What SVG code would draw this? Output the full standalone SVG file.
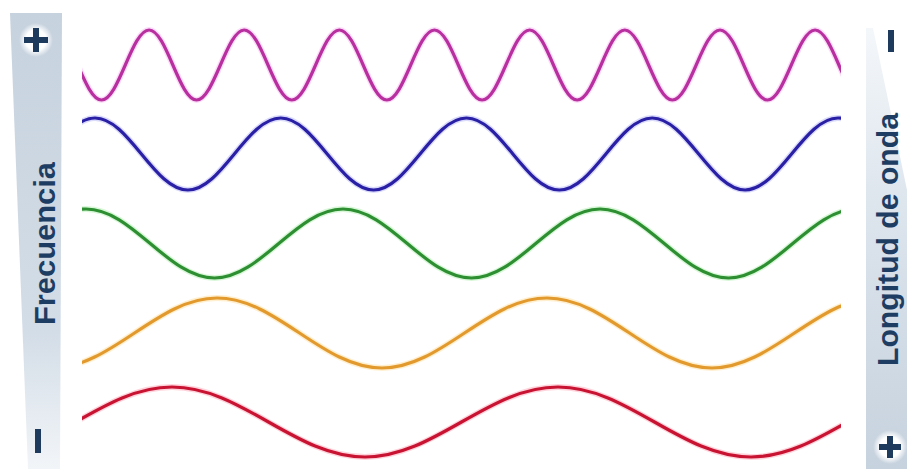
<svg xmlns="http://www.w3.org/2000/svg" width="907" height="469" viewBox="0 0 907 469">
  <defs>
    <linearGradient id="gLeft" x1="0" y1="0" x2="0" y2="1">
      <stop offset="0" stop-color="#c6d2de"/>
      <stop offset="0.7" stop-color="#d3dde7"/>
      <stop offset="1" stop-color="#f2f5f8"/>
    </linearGradient>
    <linearGradient id="gRight" x1="0" y1="0" x2="0" y2="1">
      <stop offset="0" stop-color="#f4f7fa"/>
      <stop offset="0.4" stop-color="#dde5ed"/>
      <stop offset="1" stop-color="#c6d2de"/>
    </linearGradient>
    <radialGradient id="gDot">
      <stop offset="0.6" stop-color="#ffffff"/>
      <stop offset="1" stop-color="#ffffff" stop-opacity="0"/>
    </radialGradient>
    <clipPath id="waveClip">
      <rect x="82" y="0" width="759" height="469"/>
    </clipPath>
  </defs>
  <style>
    .wave { fill: none; stroke-width: 3.2; stroke-linecap: butt; }
    .halo { fill: none; stroke-width: 6; stroke-opacity: 0.25; }
    .lbl { font-family: "Liberation Sans", Arial, sans-serif; font-weight: bold; font-size: 30px; fill: #1d3d63; }
    .sign { fill: #1e3a5c; }
  </style>

  <rect x="0" y="0" width="907" height="469" fill="#ffffff"/>

  <g id="frecuencia-axis">
    <polygon points="10,13 62,13 60,469 28,469" fill="url(#gLeft)"/>
    <circle cx="36" cy="40" r="17" fill="url(#gDot)"/>
    <rect class="sign" x="24" y="37" width="24" height="6"/>
    <rect class="sign" x="33" y="28" width="6" height="24"/>
    <text class="lbl" transform="translate(55,325) rotate(-90)" textLength="163" lengthAdjust="spacingAndGlyphs">Frecuencia</text>
    <rect class="sign" x="35" y="429" width="6" height="24"/>
  </g>

  <g id="longitud-axis">
    <polygon points="866,28 873,28 907,190 907,469 866,469" fill="url(#gRight)"/>
    <rect class="sign" x="888" y="30" width="6" height="22"/>
    <text class="lbl" transform="translate(898,366) rotate(-90)" textLength="253" lengthAdjust="spacingAndGlyphs">Longitud de onda</text>
    <circle cx="890" cy="447" r="17" fill="url(#gDot)"/>
    <rect class="sign" x="879" y="444" width="22" height="6"/>
    <rect class="sign" x="887" y="436" width="6" height="22"/>
  </g>

  <g id="waves" clip-path="url(#waveClip)">
    <g id="wave-magenta">
      <path id="pMag" class="halo" stroke="#f070e8" d="M 53.9,30 C 71.2,30 84.2,100 101.5,100 S 131.8,30 149.1,30 S 179.3,100 196.6,100 S 226.9,30 244.2,30 S 274.5,100 291.8,100 S 322.1,30 339.4,30 S 369.6,100 386.9,100 S 417.2,30 434.5,30 S 464.8,100 482.1,100 S 512.4,30 529.7,30 S 559.9,100 577.2,100 S 607.5,30 624.8,30 S 655.1,100 672.4,100 S 702.7,30 720,30 S 750.2,100 767.5,100 S 797.8,30 815.1,30 S 845.4,100 862.7,100"/>
      <path class="wave" stroke="#b8309f" d="M 53.9,30 C 71.2,30 84.2,100 101.5,100 S 131.8,30 149.1,30 S 179.3,100 196.6,100 S 226.9,30 244.2,30 S 274.5,100 291.8,100 S 322.1,30 339.4,30 S 369.6,100 386.9,100 S 417.2,30 434.5,30 S 464.8,100 482.1,100 S 512.4,30 529.7,30 S 559.9,100 577.2,100 S 607.5,30 624.8,30 S 655.1,100 672.4,100 S 702.7,30 720,30 S 750.2,100 767.5,100 S 797.8,30 815.1,30 S 845.4,100 862.7,100"/>
    </g>
    <g id="wave-blue">
      <path class="halo" stroke="#6a6af0" d="M 2.1,190 C 35.9,190 61.3,118 95,118 S 154.1,190 187.9,190 S 247,118 280.75,118 S 339.9,190 373.6,190 S 432.8,118 466.5,118 S 525.6,190 559.4,190 S 618.5,118 652.25,118 S 711.4,190 745.1,190 S 804.3,118 838,118 S 897.2,190 930.9,190"/>
      <path class="wave" stroke="#2a20a6" d="M 2.1,190 C 35.9,190 61.3,118 95,118 S 154.1,190 187.9,190 S 247,118 280.75,118 S 339.9,190 373.6,190 S 432.8,118 466.5,118 S 525.6,190 559.4,190 S 618.5,118 652.25,118 S 711.4,190 745.1,190 S 804.3,118 838,118 S 897.2,190 930.9,190"/>
    </g>
    <g id="wave-green">
      <path class="halo" stroke="#60e060" d="M -42.5,278 C 4.2,278 39.3,209 86,209 S 167.8,278 214.5,278 S 296.3,209 343,209 S 424.8,278 471.5,278 S 553.3,209 600,209 S 681.8,278 728.5,278 S 810.3,209 857,209"/>
      <path class="wave" stroke="#2e8f32" d="M -42.5,278 C 4.2,278 39.3,209 86,209 S 167.8,278 214.5,278 S 296.3,209 343,209 S 424.8,278 471.5,278 S 553.3,209 600,209 S 681.8,278 728.5,278 S 810.3,209 857,209"/>
    </g>
    <g id="wave-orange">
      <path class="halo" stroke="#ffc040" d="M 52,368 C 112,368 157,298 217,298 S 322,368 382,368 S 487,298 547,298 S 652,368 712,368 S 817,298 877,298"/>
      <path class="wave" stroke="#e29a2e" d="M 52,368 C 112,368 157,298 217,298 S 322,368 382,368 S 487,298 547,298 S 652,368 712,368 S 817,298 877,298"/>
    </g>
    <g id="wave-red">
      <path class="halo" stroke="#ff5070" d="M -21,457 C 49.1,457 101.9,387 172,387 S 294.9,457 365,457 S 487.9,387 558,387 S 680.9,457 751,457 S 873.9,387 944,387"/>
      <path class="wave" stroke="#c81432" d="M -21,457 C 49.1,457 101.9,387 172,387 S 294.9,457 365,457 S 487.9,387 558,387 S 680.9,457 751,457 S 873.9,387 944,387"/>
    </g>
  </g>
</svg>
